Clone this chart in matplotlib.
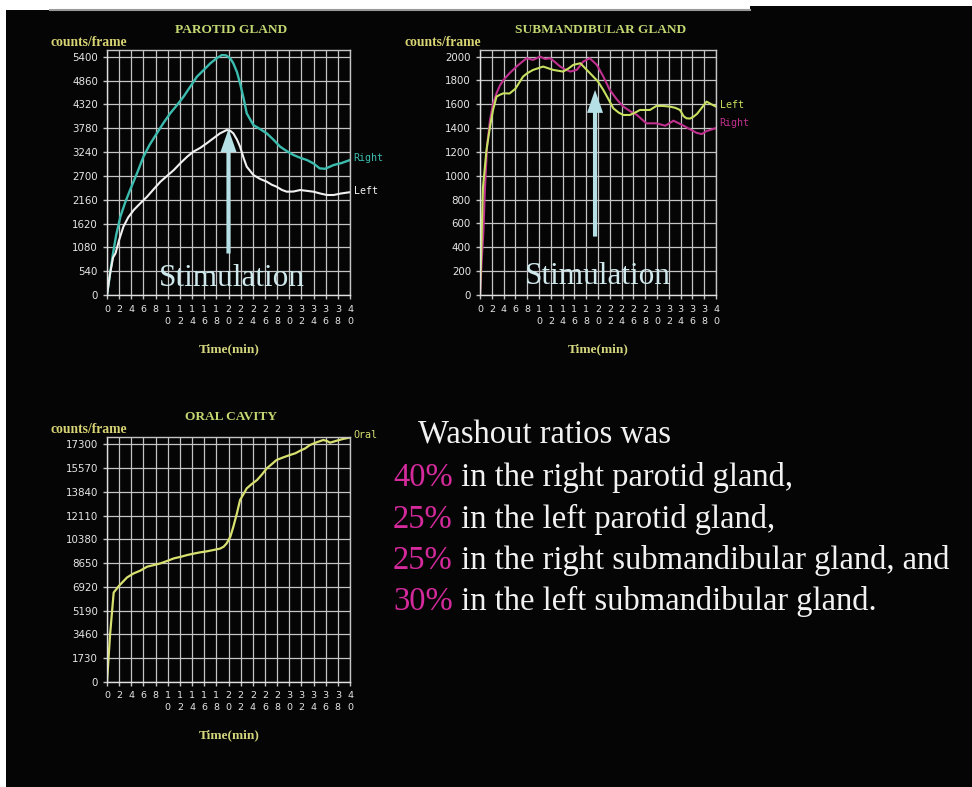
import matplotlib
matplotlib.use("Agg")
import matplotlib.pyplot as plt
from matplotlib.patches import Rectangle
from matplotlib.lines import Line2D
from matplotlib.text import Annotation

# ---------------- data ----------------
time_ticks = list(range(0, 41, 2))

parotid_yticks = [0, 540, 1080, 1620, 2160, 2700, 3240, 3780, 4320, 4860, 5400]
parotid_right_t = [0, 0.5, 1, 1.5, 2.2, 3, 3.8, 5, 6, 7, 8.2, 9.3, 10.4, 11.5, 12.6, 13.7, 14.8, 16, 17, 18, 18.9,
                   19.6, 20.3, 20.8, 21.4, 21.9, 22.5, 23, 24.1, 25.2, 26.3, 27.4, 28.5, 29.6, 30.7, 31.8, 32.9,
                   34, 35, 35.9, 37.3, 38.6, 40]
parotid_right_v = [0, 480, 950, 1350, 1775, 2100, 2380, 2780, 3134, 3400, 3663, 3900, 4116, 4300, 4494, 4720, 4947,
                   5110, 5249, 5360, 5438, 5430, 5360, 5249, 5050, 4796, 4450, 4116, 3851, 3760, 3663, 3520, 3361,
                   3260, 3172, 3110, 3059, 2980, 2870, 2860, 2945, 2990, 3059]
parotid_left_t = [0, 0.5, 1, 1.4, 2, 2.7, 3.5, 4.4, 5.5, 6.6, 7.7, 8.8, 9.9, 11, 12.1, 13.2, 14.2, 15.3, 16.4, 17.5,
                  18.6, 19.7, 20.3, 20.8, 21.4, 21.9, 22.5, 23, 24.1, 25.2, 26.3, 27.1, 27.9, 28.8, 29.6, 30.7,
                  31.8, 32.9, 34, 35.1, 36.2, 37.3, 38.5, 40]
parotid_left_v = [0, 480, 850, 944, 1250, 1548, 1760, 1926, 2080, 2228, 2400, 2568, 2700, 2832, 2990, 3134, 3247,
                  3330, 3436, 3550, 3663, 3738, 3720, 3663, 3520, 3361, 3100, 2908, 2719, 2630, 2568, 2500, 2455,
                  2380, 2341, 2345, 2379, 2360, 2341, 2300, 2266, 2266, 2300, 2330]

sub_yticks = [0, 200, 400, 600, 800, 1000, 1200, 1400, 1600, 1800, 2000]
sub_right_t = [0, 0.3, 0.56, 0.85, 1.2, 1.7, 2.2, 2.8, 3.4, 4, 5, 6.2, 7, 7.9, 9, 10.2, 11, 11.9, 12.8, 13.6, 14.5,
               15.3, 16.4, 17.5, 18.6, 19.8, 20.9, 22, 23.2, 24.3, 25.5, 26.6, 28.2, 29.9, 31.4, 32.8, 33.7, 34.5,
               35.6, 36.7, 37.6, 38.4, 40]
sub_right_v = [0, 300, 517, 909, 1250, 1469, 1600, 1692, 1760, 1804, 1860, 1916, 1950, 1986, 1972, 2000, 1980, 1986,
               1950, 1916, 1890, 1874, 1888, 1958, 1986, 1930, 1832, 1720, 1640, 1580, 1540, 1510, 1440, 1440, 1420,
               1462, 1440, 1420, 1390, 1360, 1350, 1375, 1400]
sub_left_t = [0, 0.5, 1.1, 1.7, 2.2, 2.8, 3.4, 4, 5, 6, 7.3, 8, 9, 10.7, 12.4, 14.1, 15, 15.8, 17, 18.1, 19.2, 20,
              20.9, 21.8, 22.6, 23.5, 24.3, 25.4, 26.3, 27.1, 28, 28.8, 29.9, 31, 32.2, 33.1, 33.9, 34.5, 35, 35.6,
              36.2, 36.8, 37.3, 37.9, 38.4, 39.2, 40]
sub_left_v = [0, 900, 1217, 1413, 1550, 1664, 1680, 1692, 1690, 1730, 1832, 1860, 1888, 1916, 1888, 1874, 1900, 1930,
              1944, 1888, 1832, 1790, 1720, 1640, 1566, 1530, 1510, 1510, 1530, 1552, 1552, 1552, 1586, 1586, 1580,
              1570, 1552, 1500, 1482, 1480, 1496, 1520, 1552, 1590, 1622, 1600, 1580]

oral_yticks = [0, 1730, 3460, 5190, 6920, 8650, 10380, 12110, 13840, 15570, 17300]
oral_t = [0, 0.5, 1.1, 2, 3.3, 4.4, 5.5, 6.6, 7.7, 8.8, 9.9, 11, 12.1, 13.2, 14.2, 15.3, 16.4, 17.5, 18.6, 19.2, 19.7,
          20.3, 20.8, 21.4, 21.9, 22.5, 23, 23.8, 24.7, 25.5, 26.3, 27.1, 27.9, 29, 30.1, 31, 31.8, 32.6, 33.4,
          34.5, 35.6, 36.2, 36.7, 37.3, 37.8, 38.9, 40]
oral_v = [0, 3400, 6500, 7000, 7600, 7897, 8100, 8383, 8500, 8626, 8800, 8990, 9100, 9233, 9330, 9427, 9500, 9598,
          9700, 9840, 10083, 10569, 11298, 12300, 13242, 13700, 14093, 14400, 14700, 15100, 15551, 15850, 16158,
          16350, 16522, 16650, 16838, 17000, 17251, 17450, 17616, 17550, 17422, 17500, 17567, 17700, 17800]

stim_time_parotid = 20
stim_time_sub = 19.5

washout_header = "Washout ratios was"
washout_pct = ["40%", "25%", "25%", "30%"]
washout_rest = [" in the right parotid gland,", " in the left parotid gland,",
                " in the right submandibular gland, and", " in the left submandibular gland."]

# ---------------- styling ----------------
W, H = 972, 787
fig = plt.figure(figsize=(W / 100, H / 100), dpi=100, facecolor="white")


def fx(x):
    return x / W


def fy(y):
    return 1 - y / H


# black slide background
fig.patches.append(Rectangle((fx(6), 0), 1 - fx(6), fy(10), transform=fig.transFigure,
                             facecolor="#050505", edgecolor="none", zorder=-10))
fig.patches.append(Rectangle((fx(750), fy(10)), 1 - fx(750), fy(6) - fy(10), transform=fig.transFigure,
                             facecolor="#050505", edgecolor="none", zorder=-10))
fig.lines.append(Line2D([fx(50), fx(750)], [fy(10), fy(10)], transform=fig.transFigure,
                        color="#9a9a9a", lw=1.5, zorder=-5))

GRID = "#c4c4c4"
TITLE_C = "#c4d872"
LABEL_C = "#d8d474"
TIME_C = "#d4d67e"
ARROW_C = "#b4e0e6"
STIM_C = "#cfe8ec"
SERIF = "Liberation Serif"


def make_axes(left, top, right, bottom, ymax, yticks):
    ax = fig.add_axes([fx(left), fy(bottom), fx(right) - fx(left), fy(top) - fy(bottom)])
    ax.set_facecolor("none")
    ax.set_xlim(0, 40)
    ax.set_ylim(0, ymax)
    ax.set_xticks(time_ticks)
    ax.set_xticklabels(["\n".join(str(t)) for t in time_ticks], fontsize=6.8, color="#e6e6e6",
                       family="DejaVu Sans", linespacing=1.4)
    ax.set_yticks(yticks)
    ax.set_yticklabels([str(v) for v in yticks], fontsize=7.4, color="#e6e6e6", family="DejaVu Sans")
    ax.tick_params(axis="both", direction="out", color=GRID, length=3, width=1)
    ax.tick_params(axis="x", pad=4)
    ax.tick_params(axis="y", pad=3.5)
    ax.grid(True, color=GRID, lw=0.9)
    for s in ax.spines.values():
        s.set_color(GRID)
        s.set_linewidth(1)
    ax.spines["left"].set_color("#e0e0e0")
    ax.spines["bottom"].set_color("#e0e0e0")
    ax.set_axisbelow(True)
    return ax


def end_label(ax, text, y, color):
    ax.text(40.6, y, text, color=color, fontsize=7.2, family="DejaVu Sans Mono", va="center", ha="left",
            clip_on=False)


def stim(ax, t, tip, tail, ty):
    ax.annotate("", xy=(t, tip), xytext=(t, tail),
                arrowprops=dict(arrowstyle="simple,head_length=1.65,head_width=1.15,tail_width=0.3",
                                mutation_scale=10, color=ARROW_C, shrinkA=0, shrinkB=0, lw=0))
    ax.text(t + 0.5, ty, "Stimulation", family=SERIF, fontsize=22.5, color=STIM_C, ha="center", va="center")


# ---------- parotid ----------
ax1 = make_axes(107, 50, 350, 295, 5552, parotid_yticks)
ax1.plot(parotid_right_t, parotid_right_v, color="#3cbcae", lw=1.7)
ax1.plot(parotid_left_t, parotid_left_v, color="#f0f0f0", lw=1.5)
end_label(ax1, "Right", 3098, "#3cbcae")
end_label(ax1, "Left", 2357, "#f0f0f0")
stim(ax1, stim_time_parotid, 3760, 940, 380)

# ---------- submandibular ----------
ax2 = make_axes(480, 50, 716, 295, 2055, sub_yticks)
ax2.plot(sub_right_t, sub_right_v, color="#c0308e", lw=1.5)
ax2.plot(sub_left_t, sub_left_v, color="#c8e060", lw=1.5)
end_label(ax2, "Left", 1595, "#c8e060")
end_label(ax2, "Right", 1440, "#c0308e")
stim(ax2, stim_time_sub, 1720, 490, 154)

# ---------- oral ----------
ax3 = make_axes(107, 436.7, 350, 681.7, 17859, oral_yticks)
ax3.plot(oral_t, oral_v, color="#d8e070", lw=1.6)
end_label(ax3, "Oral", 18000, "#d8e070")


# ---------- titles / labels ----------
def ftext(x, y, s, **kw):
    return fig.text(fx(x), fy(y), s, **kw)


bold = dict(family=SERIF, fontweight="bold")
ftext(231, 30, "PAROTID GLAND", color=TITLE_C, fontsize=9.6, ha="center", va="center", **bold)
ftext(601, 30, "SUBMANDIBULAR GLAND", color=TITLE_C, fontsize=9.6, ha="center", va="center", **bold)
ftext(231, 417, "ORAL CAVITY", color=TITLE_C, fontsize=9.6, ha="center", va="center", **bold)
for x, y in [(50, 43), (404, 43), (50, 429)]:
    ftext(x, y, "counts/frame", color=LABEL_C, fontsize=9.8, ha="left", va="center", **bold)
for x, y in [(229, 349), (598, 349), (229, 735)]:
    ftext(x, y, "Time(min)", color=TIME_C, fontsize=9.6, ha="center", va="center", **bold)

# ---------- washout text ----------
ftext(418, 443, washout_header, family=SERIF, fontsize=23.5, color="#f2f2f2", ha="left", va="baseline")
baselines = [486, 528, 569, 610]
for pct, rest, yb in zip(washout_pct, washout_rest, baselines):
    t1 = ftext(393, yb, pct, family=SERIF, fontsize=23.5, color="#d42a9c", ha="left", va="baseline")
    a = Annotation(rest, xy=(1, 0), xycoords=t1, xytext=(0, 0), textcoords="offset points",
                   family=SERIF, fontsize=23.5, color="#f2f2f2", ha="left", va="bottom",
                   annotation_clip=False)
    fig.add_artist(a)

fig.savefig("out.png", dpi=100, facecolor=fig.get_facecolor())
